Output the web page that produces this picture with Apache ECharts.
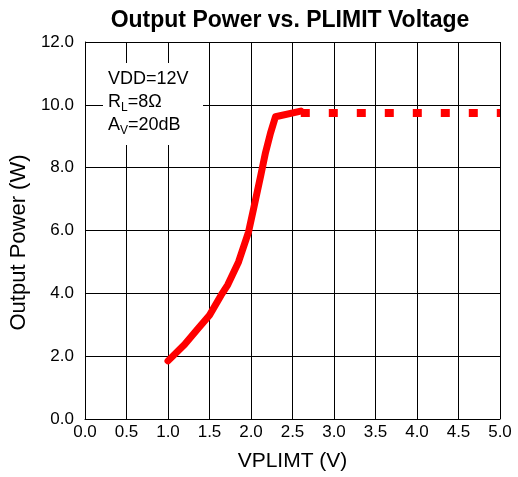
<!DOCTYPE html>
<html>
<head>
<meta charset="utf-8">
<script src="https://cdn.jsdelivr.net/npm/echarts@6/dist/echarts.min.js"></script>
<style>
  html, body { margin: 0; padding: 0; background: #fff; }
  #chart { width: 518px; height: 477px; }
</style>
</head>
<body>
<div id="chart"></div>
<script>
// measured curve (solid part) and the flat limit (dashed part)
const solidX = [1.0, 1.2, 1.36, 1.5, 1.64, 1.72, 1.85, 1.97, 2.03, 2.115, 2.175, 2.235, 2.295, 2.6];
const solidY = [1.85, 2.37, 2.87, 3.3, 3.94, 4.27, 5.0, 5.95, 6.68, 7.72, 8.48, 9.1, 9.62, 9.8];
const dashX = [2.6, 5.0];
const dashY = [9.74, 9.74];

const xMin = 0, xMax = 5, xStep = 0.5;
const yMin = 0, yMax = 12, yStep = 2;

const font = 'Liberation Sans, Arial, sans-serif';

const chart = echarts.init(document.getElementById('chart'));

const toPairs = (xs, ys) => xs.map((x, i) => [x, ys[i]]);

const option = {
  animation: false,
  title: {
    text: 'Output Power vs. PLIMIT Voltage',
    left: 285,
    top: 4,
    textAlign: 'center',
    textStyle: { fontFamily: font, fontSize: 23, fontWeight: 'bold', color: '#000' }
  },
  grid: { left: 84, right: 18, top: 42, bottom: 56 },
  xAxis: {
    type: 'value',
    min: xMin,
    max: xMax,
    interval: xStep,
    name: 'VPLIMT (V)',
    nameLocation: 'middle',
    nameGap: 32,
    nameTextStyle: { fontFamily: font, fontSize: 21, color: '#000' },
    axisLine: { show: true, lineStyle: { color: '#000', width: 1 } },
    axisTick: { show: false },
    axisLabel: {
      fontFamily: font, fontSize: 17, color: '#000', margin: 5,
      formatter: v => v.toFixed(1)
    },
    splitLine: { show: true, lineStyle: { color: '#000', width: 1 } }
  },
  yAxis: {
    type: 'value',
    min: yMin,
    max: yMax,
    interval: yStep,
    name: 'Output Power (W)',
    nameLocation: 'middle',
    nameGap: 51,
    nameTextStyle: { fontFamily: font, fontSize: 22, color: '#000', padding: [0, 24, 0, 0] },
    axisLine: { show: true, lineStyle: { color: '#000', width: 1 } },
    axisTick: { show: false },
    axisLabel: {
      fontFamily: font, fontSize: 17, color: '#000', margin: 11,
      formatter: v => v.toFixed(1)
    },
    splitLine: { show: true, lineStyle: { color: '#000', width: 1 } }
  },
  series: [
    {
      type: 'line',
      data: toPairs(solidX, solidY),
      showSymbol: false,
      lineStyle: { color: '#ff0000', width: 7, join: 'round', cap: 'round' },
      z: 3
    },
    {
      type: 'line',
      data: toPairs(dashX, dashY),
      showSymbol: false,
      lineStyle: { color: '#ff0000', width: 8, type: [9, 19], cap: 'butt' },
      z: 3
    }
  ],
  graphic: [
    {
      type: 'rect',
      shape: { x: 103, y: 63, width: 100, height: 82 },
      style: { fill: '#fff' },
      z: 10
    },
    {
      type: 'text',
      left: 108,
      top: 68,
      z: 11,
      style: {
        text: 'VDD=12V\nR{sub|L}=8Ω\nA{sub|V}=20dB',
        fontFamily: font,
        fontSize: 18,
        lineHeight: 23,
        fill: '#000',
        rich: {
          sub: { fontFamily: font, fontSize: 12, verticalAlign: 'bottom', padding: [7, 0, 0, 0], fill: '#000' }
        }
      }
    }
  ]
};

chart.setOption(option);
</script>
</body>
</html>
